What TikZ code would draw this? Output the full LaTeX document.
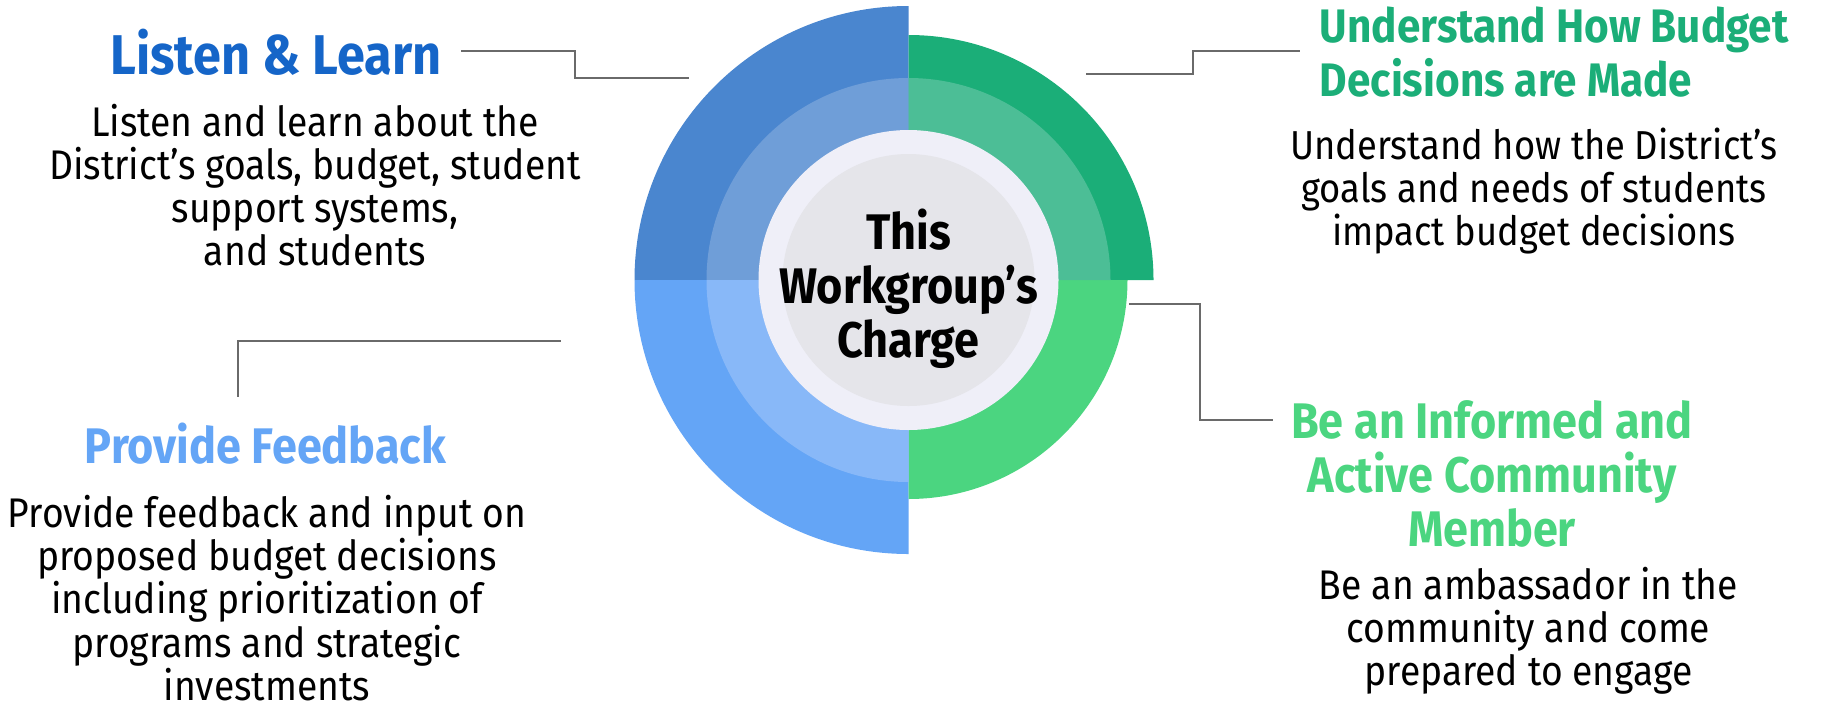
\documentclass[tikz,border=0pt]{standalone}
\usepackage{fontspec}
\setmainfont{Fira Sans}[FakeStretch=0.9]
\usetikzlibrary{positioning}

\definecolor{learnblue}{HTML}{4A86CF}
\definecolor{learnlight}{HTML}{6F9ED8}
\definecolor{learntext}{HTML}{1565C8}
\definecolor{feedblue}{HTML}{64A5F6}
\definecolor{feedlight}{HTML}{88B8F8}
\definecolor{budgetgreen}{HTML}{1BAE78}
\definecolor{budgetlight}{HTML}{4CBE96}
\definecolor{membergreen}{HTML}{4BD580}
\definecolor{ringwhite}{HTML}{EFEFF8}
\definecolor{coregrey}{HTML}{E5E5EA}
\definecolor{linkgrey}{HTML}{6A6A6A}

\begin{document}
\begin{tikzpicture}[x=0.5pt,y=0.5pt,
  link/.style={draw=linkgrey,line width=1pt},
  head/.style={font=\bfseries\fontsize{25}{27}\selectfont,align=center,inner sep=0pt},
  body/.style={font=\fontsize{20.7}{21.6}\selectfont,align=center,inner sep=0pt}]
  \useasboundingbox (0,0) rectangle (1831,-703);
  \coordinate (c) at (908.5,-280);

  % quarter sectors
  \foreach \a/\r/\col in {90/274/learnblue,180/274/feedblue,0/245/budgetgreen,270/219/membergreen,
                          90/202/learnlight,180/202/feedlight,0/202/budgetlight}
    \fill[\col] (c) -- ++(\a:\r) arc[start angle=\a,end angle=\a+90,radius=\r] -- cycle;
  \fill[ringwhite] (c) circle[radius=150];
  \fill[coregrey] (c) circle[radius=126];

  \node[head] (charge) at (908.5,-289) {This\\Workgroup’s\\Charge};

  \node[head,text=learntext,font=\bfseries\fontsize{28}{30}\selectfont] (listen) at (276,-52) {Listen \& Learn};
  \node[body]                  (listenb)  at (315,-185)  {Listen and learn about the\\District’s goals, budget, student\\support systems,\\and students};
  \node[head,text=budgetgreen,align=left,anchor=west,font=\bfseries\fontsize{23.5}{27}\selectfont] (budget) at (1319.5,-52) {Understand How Budget\\Decisions are Made};
  \node[body,font=\fontsize{20.2}{21.6}\selectfont] (budgetb) at (1534,-191) {Understand how the District’s\\goals and needs of students\\impact budget decisions};
  \node[head,text=feedblue]    (feed)     at (265.6,-443.7) {Provide Feedback};
  \node[body]                  (feedb)    at (267,-598)  {Provide feedback and input on\\proposed budget decisions\\including prioritization of\\programs and strategic\\investments};
  \node[head,text=membergreen] (member)   at (1492,-474) {Be an Informed and\\Active Community\\Member};
  \node[body]                  (memberb)  at (1528.5,-630.6) {Be an ambassador in the\\community and come\\prepared to engage};

  % connectors
  \coordinate (l1) at (461,-51.4);   \coordinate (l2) at (574.5,-78.2);  \coordinate (l3) at (689,-78.2);
  \coordinate (b1) at (1086,-73.6);  \coordinate (b2) at (1193.4,-51.4); \coordinate (b3) at (1299.6,-51.4);
  \coordinate (f1) at (560.5,-341);  \coordinate (f2) at (238.2,-397);
  \coordinate (m1) at (1129,-303.6); \coordinate (m2) at (1200,-420.4);  \coordinate (m3) at (1272.8,-420.4);
  \draw[link] (l1) -| (l2) -- (l3);
  \draw[link] (b1) -| (b2) -- (b3);
  \draw[link] (f1) -| (f2);
  \draw[link] (m1) -| (m2) -- (m3);
\end{tikzpicture}
\end{document}
